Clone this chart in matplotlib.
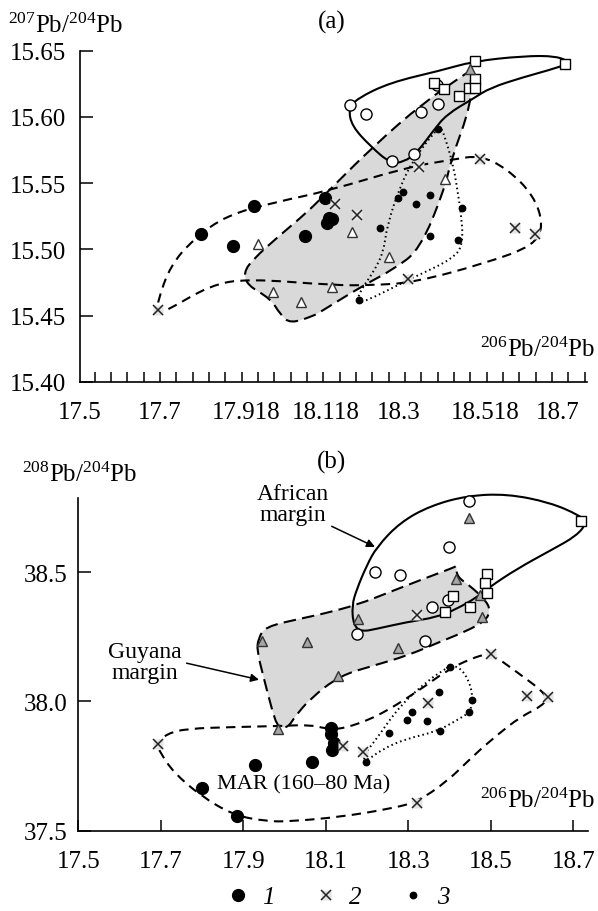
import numpy as np
import matplotlib.pyplot as plt
from matplotlib.path import Path
from matplotlib.patches import PathPatch
from matplotlib.lines import Line2D

plt.rcParams['font.family'] = ['Liberation Serif', 'DejaVu Serif']
plt.rcParams['mathtext.fontset'] = 'custom'
plt.rcParams['mathtext.rm'] = 'Liberation Serif'
plt.rcParams['mathtext.default'] = 'regular'

# ---------------- panel (a): 207Pb/204Pb vs 206Pb/204Pb ----------------
a_mar_x = [17.804, 17.884, 17.938, 18.066, 18.116, 18.125, 18.132, 18.120]
a_mar_y = [15.512, 15.503, 15.533, 15.510, 15.539, 15.524, 15.523, 15.520]
a_cross_x = [17.695, 18.141, 18.196, 18.350, 18.505, 18.593, 18.643, 18.323]
a_cross_y = [15.454, 15.534, 15.526, 15.562, 15.568, 15.516, 15.512, 15.478]
a_dot_x = [18.400, 18.310, 18.298, 18.344, 18.378, 18.252, 18.459, 18.378, 18.449, 18.200]
a_dot_y = [15.591, 15.543, 15.539, 15.534, 15.541, 15.516, 15.531, 15.510, 15.507, 15.462]
a_tri_x = [17.946, 17.984, 18.055, 18.133, 18.183, 18.417, 18.277]
a_tri_y = [15.504, 15.468, 15.460, 15.472, 15.513, 15.553, 15.494]
a_tri_gray_x = [18.480]
a_tri_gray_y = [15.636]
a_circ_x = [18.179, 18.219, 18.396, 18.400, 18.357, 18.283, 18.339]
a_circ_y = [15.609, 15.602, 15.624, 15.610, 15.604, 15.567, 15.572]
a_sq_x = [18.491, 18.718, 18.390, 18.413, 18.451, 18.476, 18.491, 18.493]
a_sq_y = [15.642, 15.640, 15.626, 15.621, 15.616, 15.622, 15.629, 15.622]

a_africa_x = [18.174, 18.196, 18.279, 18.405, 18.488, 18.613, 18.697, 18.731, 18.697, 18.613,
              18.530, 18.488, 18.421, 18.388, 18.346, 18.313, 18.279, 18.229, 18.183]
a_africa_y = [15.606, 15.614, 15.626, 15.635, 15.642, 15.646, 15.646, 15.641, 15.637, 15.630,
              15.622, 15.614, 15.602, 15.590, 15.573, 15.566, 15.565, 15.578, 15.593]
a_guyana_x = [18.480, 18.480, 18.484, 18.430, 18.417, 18.354, 18.287, 18.212, 18.104, 18.087,
              18.028, 18.003, 17.978, 17.920, 17.911, 17.936, 17.995, 18.070, 18.120, 18.237,
              18.363]
a_guyana_y = [15.635, 15.635, 15.611, 15.566, 15.547, 15.500, 15.485, 15.473, 15.453, 15.450,
              15.444, 15.451, 15.463, 15.473, 15.483, 15.493, 15.509, 15.528, 15.543, 15.578,
              15.611]
a_marfield_x = [17.695, 17.695, 17.694, 17.727, 17.786, 17.869, 17.995, 18.120, 18.321, 18.438,
                18.505, 18.572, 18.639, 18.664, 18.639, 18.522, 18.338, 18.229, 18.137, 17.920,
                17.827, 17.719]
a_marfield_y = [15.452, 15.452, 15.460, 15.488, 15.508, 15.526, 15.536, 15.544, 15.562, 15.568,
                15.571, 15.561, 15.541, 15.518, 15.503, 15.490, 15.475, 15.473, 15.473, 15.478,
                15.473, 15.454]
a_dotfield_x = [18.405, 18.413, 18.438, 18.451, 18.455, 18.463, 18.438, 18.330, 18.212, 18.196,
                18.204, 18.237, 18.262, 18.271, 18.304, 18.338, 18.388]
a_dotfield_y = [15.592, 15.588, 15.563, 15.538, 15.531, 15.505, 15.493, 15.478, 15.460, 15.461,
                15.469, 15.483, 15.498, 15.518, 15.548, 15.568, 15.588]

a_xticks = [17.5, 17.7, 17.918, 18.118, 18.3, 18.518, 18.7]
a_xticklabels = ['17.5', '17.7', '17.918', '18.118', '18.3', '18.518', '18.7']
a_yticks = [15.40, 15.45, 15.50, 15.55, 15.60, 15.65]

# ---------------- panel (b): 208Pb/204Pb vs 206Pb/204Pb ----------------
b_mar_x = [17.800, 17.884, 17.928, 18.066, 18.113, 18.113, 18.120, 18.114]
b_mar_y = [37.665, 37.556, 37.753, 37.766, 37.897, 37.875, 37.840, 37.812]
b_cross_x = [17.692, 18.141, 18.191, 18.347, 18.320, 18.500, 18.588, 18.639, 18.320]
b_cross_y = [37.837, 37.828, 37.805, 37.995, 37.607, 38.184, 38.021, 38.017, 38.335]
b_dot_x = [18.400, 18.375, 18.454, 18.308, 18.296, 18.345, 18.447, 18.252, 18.377, 18.197]
b_dot_y = [38.133, 38.036, 38.007, 37.961, 37.930, 37.924, 37.959, 37.879, 37.884, 37.766]
b_tri_x = [18.447, 18.416, 18.474, 18.478, 18.179, 18.054, 17.946, 18.276, 18.130, 17.983]
b_tri_y = [38.709, 38.474, 38.410, 38.328, 38.320, 38.230, 38.234, 38.206, 38.100, 37.893]
b_circ_x = [18.447, 18.399, 18.218, 18.280, 18.397, 18.357, 18.175, 18.340]
b_circ_y = [38.777, 38.599, 38.502, 38.490, 38.394, 38.365, 38.262, 38.232]
b_sq_x = [18.718, 18.490, 18.486, 18.490, 18.409, 18.389, 18.449]
b_sq_y = [38.699, 38.493, 38.459, 38.420, 38.407, 38.348, 38.365]

b_africa_x = [18.163, 18.175, 18.199, 18.223, 18.280, 18.353, 18.442, 18.539, 18.643, 18.716,
              18.733, 18.708, 18.643, 18.563, 18.496, 18.466, 18.417, 18.369, 18.296, 18.223,
              18.187, 18.167]
b_africa_y = [38.371, 38.435, 38.526, 38.597, 38.693, 38.757, 38.796, 38.803, 38.770, 38.719,
              38.693, 38.641, 38.583, 38.513, 38.442, 38.403, 38.358, 38.326, 38.307, 38.281,
              38.270, 38.294]
b_guyana_x = [17.936, 17.953, 18.037, 18.093, 18.176, 18.256, 18.336, 18.408, 18.416, 18.416,
              18.418, 18.450, 18.491, 18.498, 18.486, 18.442, 18.377, 18.297, 18.214, 18.134,
              18.062, 18.025, 18.008, 17.984, 17.970, 17.948, 17.933]
b_guyana_y = [38.242, 38.289, 38.320, 38.339, 38.374, 38.424, 38.474, 38.517, 38.524, 38.524,
              38.482, 38.447, 38.385, 38.347, 38.312, 38.273, 38.231, 38.177, 38.138, 38.100,
              38.011, 37.941, 37.899, 37.899, 37.964, 38.100, 38.197]
b_marfield_x = [17.690, 17.690, 17.714, 17.763, 17.876, 17.989, 18.062, 18.102, 18.142, 18.223,
                18.320, 18.393, 18.450, 18.498, 18.563, 18.639, 18.627, 18.571, 18.514, 18.458,
                18.393, 18.320, 18.256, 18.134, 18.013, 17.957, 17.876, 17.795, 17.730, 17.698]
b_marfield_y = [37.836, 37.836, 37.875, 37.895, 37.901, 37.905, 37.910, 37.894, 37.894, 37.940,
                38.036, 38.120, 38.165, 38.188, 38.114, 38.023, 37.985, 37.940, 37.869, 37.791,
                37.689, 37.611, 37.585, 37.553, 37.536, 37.536, 37.560, 37.637, 37.727, 37.804]
b_dotfield_x = [18.399, 18.425, 18.449, 18.456, 18.450, 18.417, 18.369, 18.296, 18.239, 18.195,
                18.191, 18.223, 18.280, 18.353, 18.385]
b_dotfield_y = [38.137, 38.133, 38.075, 38.010, 37.959, 37.927, 37.884, 37.856, 37.818, 37.766,
                37.791, 37.856, 37.985, 38.088, 38.120]

b_xticks = [17.5, 17.7, 17.9, 18.1, 18.3, 18.5, 18.7]
b_yticks = [37.5, 38.0, 38.5]

legend_labels = ['1', '2', '3']


def smooth_outline(xs, ys):
    # closed quadratic-bezier path through midpoints of the outline vertices
    pts = np.column_stack([xs, ys])
    mids = (pts + np.roll(pts, -1, axis=0)) / 2
    verts = [mids[-1]]
    codes = [Path.MOVETO]
    for i in range(len(pts)):
        verts += [pts[i], mids[i]]
        codes += [Path.CURVE3, Path.CURVE3]
    return Path(verts, codes)


def draw_fields(ax, africa, guyana, marfield, dotfield):
    ax.add_patch(PathPatch(smooth_outline(*guyana), facecolor='#d9d9d9', edgecolor='none',
                           zorder=1, clip_on=False))
    ax.add_patch(PathPatch(smooth_outline(*guyana), facecolor='none', edgecolor='k', lw=1.5,
                           ls=(0, (6, 3)), zorder=2, clip_on=False))
    ax.add_patch(PathPatch(smooth_outline(*marfield), facecolor='none', edgecolor='k', lw=1.5,
                           ls=(0, (4.5, 3)), zorder=2, clip_on=False))
    ax.add_patch(PathPatch(smooth_outline(*dotfield), facecolor='none', edgecolor='k', lw=1.4,
                           ls=(0, (0.8, 1.6)), zorder=2, clip_on=False))
    ax.add_patch(PathPatch(smooth_outline(*africa), facecolor='none', edgecolor='k', lw=1.5,
                           zorder=2, clip_on=False))


def draw_points(ax, mar, cross, dot, tri, tri_face, circ, sq):
    kw = dict(ls='none', clip_on=False, zorder=4)
    ax.plot(*mar, marker='o', ms=8.5, mfc='k', mec='k', **kw)
    ax.plot(*cross, marker='s', ms=7, mfc='#e4e4e4', mec='none', **kw)
    ax.plot(*cross, marker='x', ms=6.5, mew=1.1, color='#222222', **kw)
    ax.plot(*dot, marker='o', ms=4.6, mfc='k', mec='k', **kw)
    ax.plot(*tri, marker='^', ms=7.5, mfc=tri_face, mec='#333333', mew=1.0, **kw)
    ax.plot(*circ, marker='o', ms=8, mfc='white', mec='k', mew=1.0, **kw)
    ax.plot(*sq, marker='s', ms=7.5, mfc='white', mec='k', mew=1.0, **kw)


def style_axes(ax):
    for side in ['top', 'right']:
        ax.spines[side].set_visible(False)
    for side in ['left', 'bottom']:
        ax.spines[side].set_linewidth(1.2)
    ax.tick_params(labelsize=18, width=1.1)


W, H = 598, 912
fig = plt.figure(figsize=(W / 100, H / 100), dpi=100)

# panel (a)
axa = fig.add_axes([80 / W, 1 - 383 / H, 507 / W, 331.3 / H])
style_axes(axa)
axa.set_xlim(17.5, 18.773)
axa.set_ylim(15.40, 15.65)
draw_fields(axa, (a_africa_x, a_africa_y), (a_guyana_x, a_guyana_y),
            (a_marfield_x, a_marfield_y), (a_dotfield_x, a_dotfield_y))
draw_points(axa, (a_mar_x, a_mar_y), (a_cross_x, a_cross_y), (a_dot_x, a_dot_y),
            (a_tri_x, a_tri_y), 'white', (a_circ_x, a_circ_y), (a_sq_x, a_sq_y))
axa.plot(a_tri_gray_x, a_tri_gray_y, ls='none', marker='^', ms=7.5, mfc='#a6a6a6',
         mec='#333333', zorder=4, clip_on=False)
axa.set_xticks(a_xticks, labels=a_xticklabels)
axa.set_xticks(np.linspace(17.537, 18.767, 31), minor=True)
axa.tick_params(axis='x', which='major', length=0, pad=14)
axa.tick_params(axis='x', which='minor', direction='in', length=7, width=1.1)
axa.set_yticks(a_yticks, labels=['%.2f' % v for v in a_yticks])
axa.tick_params(axis='y', direction='in', length=9, pad=10)

fig.text(8 / W, 1 - 33 / H, r'$^{207}$Pb/$^{204}$Pb', fontsize=18, ha='left', va='baseline')
fig.text(595 / W, 1 - 357 / H, r'$^{206}$Pb/$^{204}$Pb', fontsize=18, ha='right', va='baseline')
fig.text(332 / W, 1 - 22 / H, '(a)', fontsize=18, ha='center', va='center')

# panel (b)
axb = fig.add_axes([78.3 / W, 1 - 831.7 / H, 510 / W, 332.4 / H])
style_axes(axb)
axb.set_xlim(17.5, 18.736)
axb.set_ylim(37.5, 38.786)
draw_fields(axb, (b_africa_x, b_africa_y), (b_guyana_x, b_guyana_y),
            (b_marfield_x, b_marfield_y), (b_dotfield_x, b_dotfield_y))
draw_points(axb, (b_mar_x, b_mar_y), (b_cross_x, b_cross_y), (b_dot_x, b_dot_y),
            (b_tri_x, b_tri_y), '#a6a6a6', (b_circ_x, b_circ_y), (b_sq_x, b_sq_y))
axb.set_xticks(b_xticks, labels=['%.1f' % v for v in b_xticks])
axb.tick_params(axis='x', direction='in', length=8, pad=14)
axb.set_yticks(b_yticks, labels=['%.1f' % v for v in b_yticks])
axb.tick_params(axis='y', direction='in', length=9, pad=8)

axb.annotate('African\nmargin', xy=(18.219, 38.598), xytext=(18.020, 38.764),
             fontsize=17, ha='center', va='center', linespacing=1.0,
             arrowprops=dict(arrowstyle='-|>', color='k', lw=1.1, mutation_scale=12,
                             shrinkA=0, shrinkB=0, relpos=(1.0, 0.0)),
             annotation_clip=False, zorder=5)
axb.annotate('Guyana\nmargin', xy=(17.938, 38.084), xytext=(17.660, 38.153),
             fontsize=17, ha='center', va='center', linespacing=1.0,
             arrowprops=dict(arrowstyle='-|>', color='k', lw=1.1, mutation_scale=12,
                             shrinkA=2, shrinkB=0, relpos=(1.0, 0.5)),
             annotation_clip=False, zorder=5)
axb.text(17.837, 37.682, 'MAR (160–80 Ma)', fontsize=16, ha='left', va='center', zorder=5)

fig.text(22 / W, 1 - 481.7 / H, r'$^{208}$Pb/$^{204}$Pb', fontsize=18, ha='left', va='baseline')
fig.text(595 / W, 1 - 808 / H, r'$^{206}$Pb/$^{204}$Pb', fontsize=18, ha='right', va='baseline')
fig.text(332 / W, 1 - 462 / H, '(b)', fontsize=18, ha='center', va='center')

# legend
h1 = Line2D([], [], ls='none', marker='o', ms=8.5, color='k')
h2 = (Line2D([], [], ls='none', marker='s', ms=7, mfc='#e4e4e4', mec='none'),
      Line2D([], [], ls='none', marker='x', ms=6.5, mew=1.1, color='#222222'))
h3 = Line2D([], [], ls='none', marker='o', ms=4.6, color='k')
fig.legend([h1, h2, h3], legend_labels, loc='center', bbox_to_anchor=(338 / W, 1 - 898 / H),
           ncol=3, frameon=False, handlelength=0.9, handletextpad=0.5, columnspacing=1.6,
           prop={'family': 'Liberation Serif', 'style': 'italic', 'size': 18})

fig.savefig('out.png', dpi=100)
